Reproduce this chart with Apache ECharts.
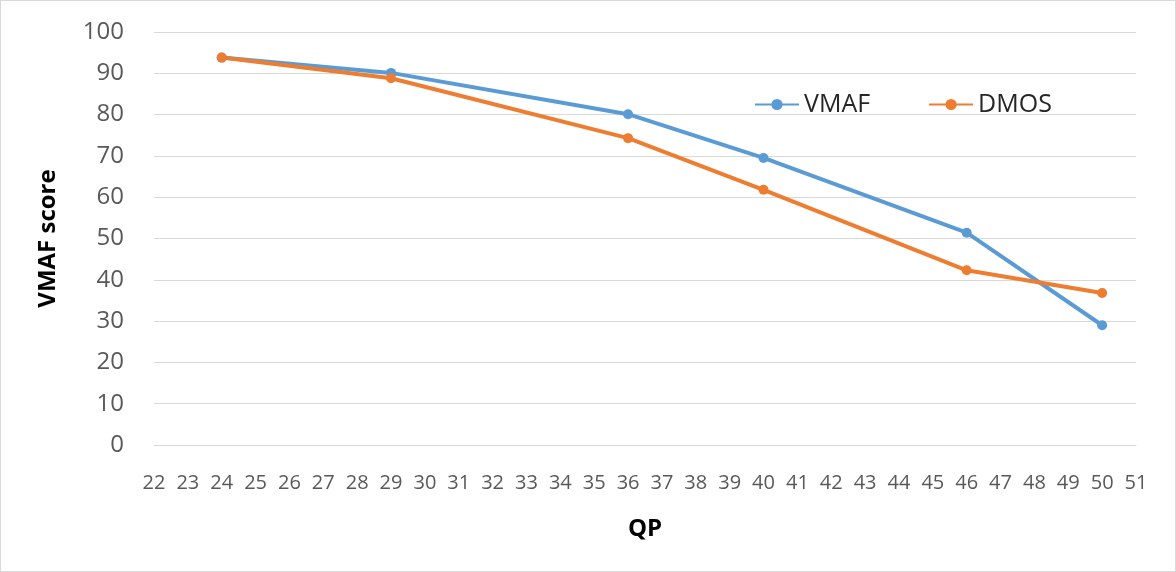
<!DOCTYPE html>
<html>
<head>
<meta charset="utf-8">
<script src="https://cdn.jsdelivr.net/npm/echarts@6/dist/echarts.min.js"></script>
<style>
    html, body { margin: 0; padding: 0; background: #fff; }
    #chart { width: 1174px; height: 570px; border: 1px solid #d9d9d9; }
</style>
</head>
<body>
<div id="chart"></div>
<script>
    // QP values and scores
    var qpValues = [24, 29, 36, 40, 46, 50];
    var vmafScores = [93.8, 90.1, 80.1, 69.5, 51.4, 29.0];
    var dmosScores = [93.8, 88.8, 74.3, 61.8, 42.3, 36.8];

    function toPairs(xs, ys) {
        var out = [];
        for (var i = 0; i < xs.length; i++) {
            out.push([xs[i], ys[i]]);
        }
        return out;
    }

    var labelFont = '"Liberation Sans Narrow", "Open Sans", "Liberation Sans", sans-serif';
    var chart = echarts.init(document.getElementById('chart'));

    var option = {
        backgroundColor: '#fff',
        animation: false,
        grid: {
            left: 153,
            right: 39,
            top: 31,
            bottom: 126
        },
        legend: {
            left: 748,
            top: 86,
            itemWidth: 44,
            itemHeight: 14,
            itemGap: 58,
            textStyle: {
                fontSize: 25,
                color: '#262626',
                fontFamily: 'Open Sans, sans-serif'
            },
            data: ['VMAF', 'DMOS']
        },
        xAxis: {
            type: 'value',
            min: 22,
            max: 51,
            interval: 1,
            name: 'QP',
            nameLocation: 'middle',
            nameGap: 72,
            nameTextStyle: {
                fontSize: 24,
                fontWeight: 'bold',
                color: '#000',
                fontFamily: 'Open Sans, sans-serif'
            },
            axisLine: { show: true, lineStyle: { color: '#d9d9d9' } },
            axisTick: { show: false },
            splitLine: { show: false },
            axisLabel: {
                margin: 28,
                fontSize: 20,
                color: '#595959',
                fontFamily: labelFont
            }
        },
        yAxis: {
            type: 'value',
            min: 0,
            max: 100,
            interval: 10,
            name: 'VMAF score',
            nameLocation: 'middle',
            nameGap: 94,
            nameTextStyle: {
                fontSize: 24,
                fontWeight: 'bold',
                color: '#000',
                fontFamily: 'Open Sans, sans-serif'
            },
            axisLine: { show: false },
            axisTick: { show: false },
            splitLine: { lineStyle: { color: '#d9d9d9', width: 1 } },
            axisLabel: {
                margin: 30,
                fontSize: 24,
                color: '#595959',
                fontFamily: 'Open Sans, sans-serif'
            }
        },
        series: [
            {
                name: 'VMAF',
                type: 'line',
                data: toPairs(qpValues, vmafScores),
                symbol: 'circle',
                symbolSize: 10,
                lineStyle: { color: '#5b9bd5', width: 4 },
                itemStyle: { color: '#5b9bd5' }
            },
            {
                name: 'DMOS',
                type: 'line',
                data: toPairs(qpValues, dmosScores),
                symbol: 'circle',
                symbolSize: 10,
                lineStyle: { color: '#ed7d31', width: 4 },
                itemStyle: { color: '#ed7d31' }
            }
        ]
    };

    chart.setOption(option);
</script>
</body>
</html>
